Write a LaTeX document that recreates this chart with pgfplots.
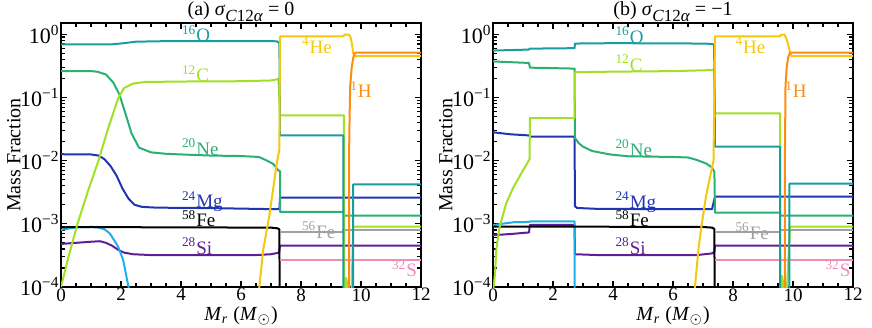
\documentclass[border=0pt]{standalone}
\usepackage{fontspec}
\setmainfont{Liberation Serif}
\usepackage{pgfplots}
\pgfplotsset{compat=1.18}

\definecolor{cO}{RGB}{24,158,160}
\definecolor{cC}{RGB}{160,225,35}
\definecolor{cNe}{RGB}{42,176,115}
\definecolor{cMg}{RGB}{32,52,180}
\definecolor{cSi}{RGB}{95,30,150}
\definecolor{cLB}{RGB}{30,176,234}
\definecolor{cHe}{RGB}{245,200,15}
\definecolor{cH}{RGB}{255,140,16}
\definecolor{cFe}{RGB}{160,160,160}
\definecolor{cS}{RGB}{242,140,180}

\tikzset{lab/.style={anchor=base west, inner sep=0pt, font=\fontsize{9.5}{11}\selectfont}}
\newcommand{\sig}{\textit{σ}\raisebox{-2.6pt}{\fontsize{8.5}{10}\selectfont\textit{C}12\textit{α}}}

\pgfplotsset{
  every axis title shift=0pt,
  panel/.style={
    scale only axis, width=180pt, height=132pt,
    xmin=0, xmax=12, ymin=1e-4, ymax=1.5,
    xtick={0,2,4,6,8,10,12}, xticklabels={0,2,4,6,8,10,12}, minor x tick num=3,
    ytick={1e-4,1e-3,1e-2,1e-1,1},
    yticklabels={10\textsuperscript{−4},10\textsuperscript{−3},10\textsuperscript{−2},10\textsuperscript{−1},10\textsuperscript{0}},
    minor ytick={2e-4,3e-4,4e-4,5e-4,6e-4,7e-4,8e-4,9e-4,
                 2e-3,3e-3,4e-3,5e-3,6e-3,7e-3,8e-3,9e-3,
                 2e-2,3e-2,4e-2,5e-2,6e-2,7e-2,8e-2,9e-2,
                 0.2,0.3,0.4,0.5,0.6,0.7,0.8,0.9},
    tick align=inside, tick pos=both,
    major tick length=3pt, minor tick length=1.8pt,
    every tick/.style={black, line width=0.6pt},
    axis line style={line width=0.9pt},
    xticklabel style={font=\fontsize{9.5}{11}\selectfont, inner sep=0.5pt},
    yticklabel style={font=\fontsize{11}{13}\selectfont, inner sep=0pt, xshift=-0.5pt},
    xlabel={\textit{M}\textsubscript{\textit{r}} (\textit{M}\textsubscript{$\odot$})},
    ylabel={Mass Fraction},
    label style={font=\fontsize{10}{12}\selectfont},
    xlabel style={at={([yshift=-9.5pt]axis description cs:0.5,0)}, anchor=north, inner sep=0pt},
    ylabel style={at={([xshift=-20pt]axis description cs:0,0.5)}, anchor=south, inner sep=0pt},
    title style={at={([yshift=3.6pt]axis description cs:0.5,1)}, anchor=base, inner sep=0pt, font=\fontsize{10}{12}\selectfont},
    every axis plot/.append style={line width=1pt, line join=round, mark=none},
  },
}

\begin{document}
\begin{tikzpicture}
% ---------------- (a) ----------------
\begin{axis}[ymode=log, panel, at={(0pt,0pt)}, anchor=south west,
  title={(a) \sig{} = 0}]
% 28Si
\addplot[cSi] coordinates {(0,0.00048) (0.5,0.0005) (1.0,0.00052) (1.3,0.00053) (1.5,0.0005) (1.7,0.00045) (1.9,0.00039) (2.1,0.00035) (2.4,0.00033) (3,0.00032) (6.5,0.00032) (7.0,0.00033) (7.27,0.00035) (7.3,0.00045) (12,0.00045)};
% light blue
\addplot[cLB] coordinates {(0,0.0008) (0.3,0.00085) (0.6,0.00089) (1.2,0.00088) (1.45,0.00082) (1.63,0.0007) (1.9,0.00044) (2.07,0.00027) (2.25,1e-4) (2.35,5e-5)};
% 58Fe
\addplot[black] coordinates {(0,0.00088) (1,0.00089) (3,0.00088) (7.0,0.00087) (7.2,0.00085) (7.28,0.00082) (7.3,1e-6)};
% 56Fe
\addplot[cFe] coordinates {(7.3,0.00075) (9.41,0.00075) (9.41,0.0008) (12,0.0008)};
% 32S
\addplot[cS] coordinates {(7.3,0.00027) (12,0.00027)};
% 24Mg
\addplot[cMg] coordinates {(0,0.0126) (1.0,0.0125) (1.25,0.012) (1.45,0.0105) (1.65,0.0082) (1.85,0.0058) (2.05,0.0036) (2.25,0.0025) (2.45,0.002) (2.7,0.00185) (3.2,0.0018) (5,0.00177) (7.2,0.0017) (7.28,0.0017) (7.3,0.0026) (12,0.0026)};
% 20Ne
\addplot[cNe] coordinates {(0,0.26) (1.0,0.26) (1.2,0.255) (1.5,0.23) (1.75,0.17) (1.95,0.11) (2.15,0.055) (2.35,0.027) (2.6,0.016) (3.0,0.0135) (3.5,0.0128) (4,0.0125) (5,0.012) (6,0.0118) (6.6,0.0114) (6.9,0.0098) (7.08,0.0088) (7.24,0.007) (7.3,0.0068) (7.3,0.00155) (9.43,0.00155) (9.43,0.00135) (12,0.00135)};
% 12C
\addplot[cC] coordinates {(0,1e-4) (0.25,3e-4) (0.55,1e-3) (0.9,3.3e-3) (1.25,1e-2) (1.55,3e-2) (1.9,0.095) (2.1,0.14) (2.4,0.165) (2.8,0.175) (4,0.178) (6,0.18) (7.0,0.185) (7.25,0.195) (7.3,0.052) (9.43,0.052) (9.44,1e-6)};
\addplot[cC] coordinates {(9.47,1e-6) (9.5,1.4e-4) (9.54,1.2e-4) (9.57,1e-6)};
\addplot[cC] coordinates {(9.68,1e-6) (9.69,1e-4) (9.74,0.0009) (12,0.0009)};
% 16O
\addplot[cO] coordinates {(0,0.69) (1.7,0.69) (2.1,0.72) (2.5,0.76) (3.5,0.775) (7,0.775) (7.2,0.77) (7.28,0.72) (7.3,0.025) (9.41,0.025) (9.41,1e-6) (9.74,1e-6) (9.74,0.0042) (12,0.0042)};
% 4He
\addplot[cHe] coordinates {(6.55,5e-5) (6.61,1e-4) (6.74,3.9e-4) (6.94,1.3e-3) (7.1,4.4e-3) (7.19,9e-3) (7.28,0.015) (7.3,0.92) (9.41,0.92) (9.45,0.98) (9.6,0.98) (9.65,0.9) (9.7,0.7) (9.74,0.5) (9.78,0.45) (12,0.45)};
% 1H
\addplot[cH] coordinates {(9.6,1e-6) (9.6,0.01) (9.62,0.05) (9.64,0.15) (9.69,0.3) (9.74,0.42) (9.8,0.51) (12,0.51)};
\node[lab, text=cO] at (axis cs:4.02,0.76) {\textsuperscript{16}O};
\node[lab, text=cC] at (axis cs:4.02,0.176) {\textsuperscript{12}C};
\node[lab, text=cNe] at (axis cs:4.02,0.0122) {\textsuperscript{20}Ne};
\node[lab, text=cMg] at (axis cs:4.02,0.00178) {\textsuperscript{24}Mg};
\node[lab, text=black] at (axis cs:4.02,0.0009) {\textsuperscript{58}Fe};
\node[lab, text=cSi] at (axis cs:4.02,0.00033) {\textsuperscript{28}Si};
\node[lab, text=cHe] at (axis cs:8.02,0.495) {\textsuperscript{4}He};
\node[lab, text=cH] at (axis cs:9.63,0.098) {\textsuperscript{1}H};
\node[lab, text=cFe] at (axis cs:8.02,0.00059) {\textsuperscript{56}Fe};
\node[lab, text=cS] at (axis cs:11.02,0.000145) {\textsuperscript{32}S};
\end{axis}
% ---------------- (b) ----------------
\begin{axis}[ymode=log, panel, at={(216pt,0pt)}, anchor=south west,
  title={(b) \sig{} = −1}]
% 28Si
\addplot[cSi] coordinates {(0,0.00066) (0.6,0.00069) (1.2,0.00073) (1.23,0.00096) (2.72,0.00096) (2.73,0.00033) (3.5,0.00032) (6.8,0.00032) (7.3,0.00034) (7.38,0.00036) (7.4,0.00045) (12,0.00045)};
% light blue
\addplot[cLB] coordinates {(0,0.00095) (0.3,0.001) (0.7,0.00106) (1.2,0.00107) (1.23,0.00109) (2.72,0.00109) (2.73,1e-6)};
% 58Fe
\addplot[black] coordinates {(0,0.0009) (3,0.0009) (7.0,0.00089) (7.3,0.00087) (7.38,0.00083) (7.4,1e-6)};
% 56Fe
\addplot[cFe] coordinates {(7.4,0.00075) (9.57,0.00075) (9.57,0.0008) (12,0.0008)};
% 32S
\addplot[cS] coordinates {(7.4,0.00027) (12,0.00027)};
% 24Mg
\addplot[cMg] coordinates {(0,0.028) (0.6,0.026) (1.2,0.025) (1.23,0.024) (2.72,0.024) (2.73,0.0019) (2.8,0.00178) (3.5,0.00172) (7.3,0.0017) (7.4,0.0027) (12,0.0027)};
% 20Ne
\addplot[cNe] coordinates {(0,0.37) (0.6,0.36) (1.2,0.35) (1.23,0.295) (2.0,0.29) (2.72,0.285) (2.73,0.023) (2.85,0.019) (3.0,0.0166) (3.3,0.0142) (3.9,0.0125) (4.5,0.0117) (6.0,0.0114) (6.5,0.0112) (6.8,0.0102) (7.1,0.009) (7.3,0.0078) (7.38,0.0066) (7.4,0.0015) (9.57,0.0015) (9.57,0.00135) (12,0.00135)};
% 12C
\addplot[cC] coordinates {(0,8e-5) (0.07,1.7e-4) (0.11,3.9e-4) (0.22,8.9e-4) (0.44,2.1e-3) (0.67,3.7e-3) (1.0,7e-3) (1.22,1.05e-2) (1.23,0.047) (2.72,0.047) (2.73,0.25) (4,0.255) (6,0.26) (7.3,0.27) (7.38,0.28) (7.4,0.056) (9.57,0.056) (9.58,1e-6)};
\addplot[cC] coordinates {(9.61,1e-6) (9.63,1.5e-4) (9.67,1.2e-4) (9.7,1e-6)};
\addplot[cC] coordinates {(9.79,1e-6) (9.8,1e-4) (9.9,0.0009) (12,0.0009)};
% 16O
\addplot[cO] coordinates {(0,0.55) (0.6,0.56) (1.2,0.57) (1.22,0.59) (2.0,0.595) (2.72,0.6) (2.73,0.71) (4,0.72) (7,0.71) (7.3,0.7) (7.37,0.68) (7.4,0.0166) (9.57,0.0166) (9.57,1e-6) (9.88,1e-6) (9.88,0.0043) (12,0.0043)};
% 4He
\addplot[cHe] coordinates {(6.68,5e-5) (6.73,1e-4) (6.85,4e-4) (6.96,1e-3) (7.1,2.7e-3) (7.25,6e-3) (7.35,1e-2) (7.4,0.92) (9.57,0.92) (9.6,0.98) (9.72,0.98) (9.8,0.8) (9.9,0.52) (9.95,0.45) (12,0.45)};
% 1H
\addplot[cH] coordinates {(9.72,1e-6) (9.73,0.01) (9.75,0.15) (9.79,0.3) (9.84,0.43) (9.9,0.51) (12,0.51)};
\node[lab, text=cO] at (axis cs:4.07,0.71) {\textsuperscript{16}O};
\node[lab, text=cC] at (axis cs:4.07,0.26) {\textsuperscript{12}C};
\node[lab, text=cNe] at (axis cs:4.07,0.0118) {\textsuperscript{20}Ne};
\node[lab, text=cMg] at (axis cs:4.07,0.00174) {\textsuperscript{24}Mg};
\node[lab, text=black] at (axis cs:4.07,0.0009) {\textsuperscript{58}Fe};
\node[lab, text=cSi] at (axis cs:4.07,0.00033) {\textsuperscript{28}Si};
\node[lab, text=cHe] at (axis cs:8.07,0.495) {\textsuperscript{4}He};
\node[lab, text=cH] at (axis cs:9.73,0.098) {\textsuperscript{1}H};
\node[lab, text=cFe] at (axis cs:8.07,0.00057) {\textsuperscript{56}Fe};
\node[lab, text=cS] at (axis cs:11.07,0.000145) {\textsuperscript{32}S};
\end{axis}
\pgfresetboundingbox
\path[use as bounding box] (-30.5pt,-20pt) rectangle (405.5pt,143.5pt);
\end{tikzpicture}
\end{document}
